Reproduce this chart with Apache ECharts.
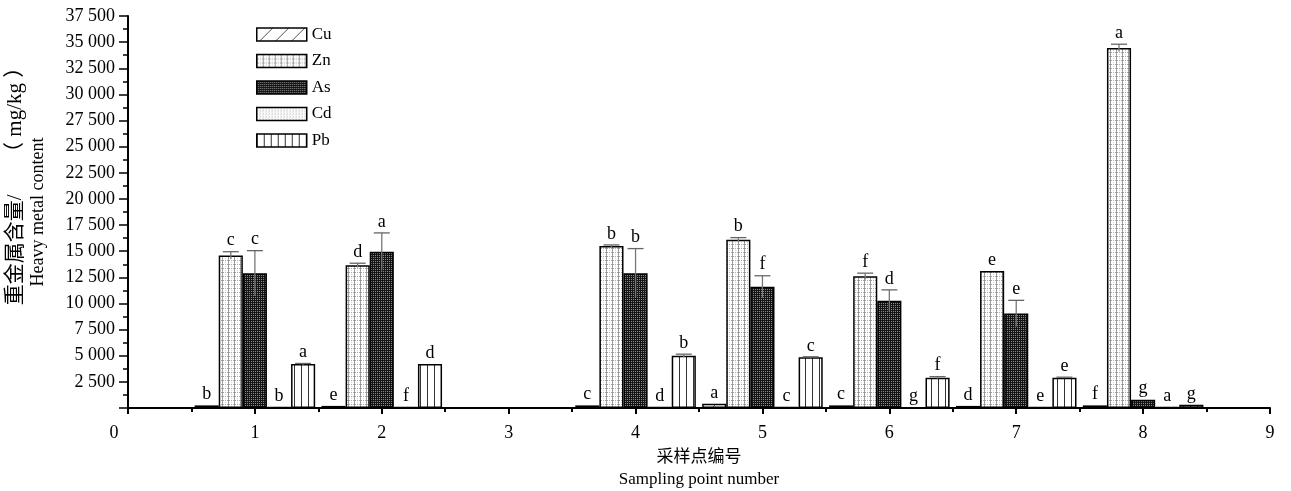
<!DOCTYPE html>
<html><head><meta charset="utf-8">
<script src="https://cdn.jsdelivr.net/npm/echarts@6/dist/echarts.min.js"></script>
<style>html,body{margin:0;padding:0;background:#fff;overflow:hidden}#c{width:1291px;height:491px}</style>
</head><body><div id="c"></div>
<script>
const sites = [1, 2, 4, 5, 6, 7, 8];
const metals = ['Cu', 'Zn', 'As', 'Cd', 'Pb'];
const cuValues = [250, 200, 250, 400, 250, 200, 250];
const znValues = [14600, 13650, 15500, 16100, 12600, 13100, 34450];
const asValues = [12900, 14950, 12900, 11600, 10250, 9050, 800];
const cdValues = [80, 80, 80, 80, 50, 80, 100];
const pbValues = [4200, 4200, 5000, 4850, 2900, 2900, 300];
const cuErr = [0, 0, 0, 0, 0, 0, 0];
const znErr = [350, 200, 100, 200, 300, 0, 350];
const asErr = [2150, 1800, 2350, 1050, 1050, 1250, 0];
const cdErr = [0, 0, 0, 0, 0, 0, 0];
const pbErr = [60, 0, 150, 50, 100, 50, 0];
const cuLetters = ['b', 'e', 'c', 'a', 'c', 'd', 'f'];
const znLetters = ['c', 'd', 'b', 'b', 'f', 'e', 'a'];
const asLetters = ['c', 'a', 'b', 'f', 'd', 'e', 'g'];
const cdLetters = ['b', 'f', 'd', 'c', 'g', 'e', 'a'];
const pbLetters = ['a', 'd', 'b', 'c', 'f', 'e', 'g'];
const xTicks = ['0', '1', '2', '3', '4', '5', '6', '7', '8', '9'];

const allValues = [cuValues, znValues, asValues, cdValues, pbValues];
const allErr = [cuErr, znErr, asErr, cdErr, pbErr];
const allLetters = [cuLetters, znLetters, asLetters, cdLetters, pbLetters];

function tile(w, h, draw) {
  const c = document.createElement('canvas');
  c.width = w; c.height = h;
  const g = c.getContext('2d');
  g.fillStyle = '#fff'; g.fillRect(0, 0, w, h);
  draw(g);
  return { image: c, repeat: 'repeat' };
}
const patterns = [
  tile(16, 16, g => { g.strokeStyle = '#555'; g.lineWidth = 1; g.beginPath(); g.moveTo(0, 16); g.lineTo(16, 0); g.stroke(); }),
  tile(6, 4, g => {
    g.fillStyle = '#8c8c8c'; g.fillRect(0, 0, 1, 1); g.fillRect(0, 2, 1, 1);
    g.fillStyle = '#a8a8a8'; g.fillRect(1, 0, 1, 1); g.fillRect(3, 0, 1, 1); g.fillRect(5, 0, 1, 1); g.fillRect(0, 1, 1, 1); g.fillRect(0, 3, 1, 1);
    g.fillStyle = '#d5d5d5'; g.fillRect(3, 2, 1, 1);
  }),
  tile(4, 4, g => { g.fillStyle = '#151515'; g.fillRect(0, 0, 4, 4); g.fillStyle = '#8a8a8a'; g.fillRect(1, 1, 1, 1); g.fillRect(3, 3, 1, 1); g.fillRect(3, 1, 1, 1); g.fillRect(1, 3, 1, 1); }),
  tile(3, 3, g => { g.fillStyle = '#bdbdbd'; g.fillRect(0, 0, 1, 1); g.fillStyle = '#dedede'; g.fillRect(0, 2, 1, 1); g.fillRect(2, 1, 1, 1); }),
  tile(7, 1, g => { g.fillStyle = '#333'; g.fillRect(0, 0, 1, 1); })
];

const BAR_FRAC = 0.19;
const serif = "'Liberation Serif', 'Noto Sans CJK SC', serif";

const barSeries = metals.map((m, i) => ({
  name: m,
  type: 'bar',
  barWidth: (BAR_FRAC * 100) + '%',
  barGap: '0%',
  data: sites.map((s, k) => [s, allValues[i][k]]),
  itemStyle: { color: patterns[i], borderColor: '#000', borderWidth: 1.5 },
  z: 2
}));

const errData = [];
const errLetters = [];
metals.forEach((m, i) => {
  sites.forEach((s, k) => {
    errData.push([s, allValues[i][k], allErr[i][k], i]);
    errLetters.push(allLetters[i][k]);
  });
});

const errSeries = {
  type: 'custom',
  coordinateSystem: 'cartesian2d',
  data: errData,
  z: 5,
  silent: true,
  encode: { x: 0, y: 1 },
  renderItem: function (params, api) {
    const x = api.value(0), v = api.value(1), e = api.value(2), i = api.value(3);
    const bw = api.size([1, 0])[0] * BAR_FRAC;
    const off = (i - 2) * bw;
    const p = api.coord([x, v]);
    const px = p[0] + off;
    const children = [];
    let topY = p[1];
    if (e > 0) {
      const hi = api.coord([x, v + e])[1];
      const lo = api.coord([x, Math.max(0, v - e)])[1];
      topY = hi;
      children.push({ type: 'line', shape: { x1: px, y1: lo, x2: px, y2: hi }, style: { stroke: '#777', lineWidth: 1.3 } });
      children.push({ type: 'line', shape: { x1: px - 8, y1: hi, x2: px + 8, y2: hi }, style: { stroke: '#666', lineWidth: 1.3 } });
    }
    children.push({
      type: 'text',
      style: { text: errLetters[params.dataIndex], x: px, y: topY - 2, align: 'center', verticalAlign: 'bottom', font: "18px 'Liberation Serif', serif", fill: '#000' }
    });
    return { type: 'group', children: children };
  }
};

const chart = echarts.init(document.getElementById('c'), null, { renderer: 'canvas', width: 1291, height: 491 });
chart.setOption({
  animation: false,
  backgroundColor: '#fff',
  grid: { left: 128, right: 21, top: 16, bottom: 83, containLabel: false, outerBoundsMode: 'none' },
  legend: {
    data: metals,
    orient: 'vertical',
    left: 256, top: 26,
    itemWidth: 50, itemHeight: 13, itemGap: 9.5,
    icon: 'rect',
    padding: 0,
    itemStyle: { borderColor: '#000', borderWidth: 1.5 },
    textStyle: { fontFamily: serif, fontSize: 17, color: '#000' }
  },
  xAxis: {
    type: 'value', min: 0, max: 9, interval: 1,
    name: '采样点编号\nSampling point number',
    nameLocation: 'middle', nameGap: 34,
    nameTextStyle: { fontFamily: serif, fontSize: 17, color: '#000', lineHeight: 22 },
    axisLine: { show: true, lineStyle: { color: '#000', width: 2 } },
    axisTick: { show: true, length: 6, lineStyle: { color: '#000', width: 2 } },
    minorTick: { show: true, splitNumber: 2, length: 4, lineStyle: { color: '#000', width: 2 } },
    splitLine: { show: false },
    axisLabel: {
      fontFamily: serif, fontSize: 18, color: '#000', margin: 16,
      formatter: v => v === 0 ? '{z|' + xTicks[0] + '}' : xTicks[v],
      rich: { z: { fontFamily: serif, fontSize: 18, color: '#000', padding: [0, 28, 0, 0] } }
    }
  },
  yAxis: {
    type: 'value', min: 0, max: 37500, interval: 2500,
    name: '{c|重金属含量/　　（ mg/kg ）}\n{e|Heavy metal content}',
    nameLocation: 'middle', nameRotate: 90, nameGap: 79,
    nameTextStyle: {
      fontFamily: serif, fontSize: 18, color: '#000', lineHeight: 22,
      rich: {
        c: { fontFamily: serif, fontSize: 21, color: '#000', lineHeight: 24, padding: [0, 0, 0, 62] },
        e: { fontFamily: serif, fontSize: 18, color: '#000', lineHeight: 22 }
      }
    },
    axisLine: { show: true, lineStyle: { color: '#000', width: 2 } },
    axisTick: { show: true, length: 9, lineStyle: { color: '#000', width: 1.5 } },
    minorTick: { show: true, splitNumber: 2, length: 5, lineStyle: { color: '#000', width: 1.5 } },
    splitLine: { show: false },
    axisLabel: {
      fontFamily: serif, fontSize: 18, color: '#000', margin: 13,
      formatter: v => v === 0 ? '' : String(v).replace(/\B(?=(\d{3})+(?!\d))/g, ' ')
    }
  },
  series: barSeries.concat([errSeries])
});
</script></body></html>
